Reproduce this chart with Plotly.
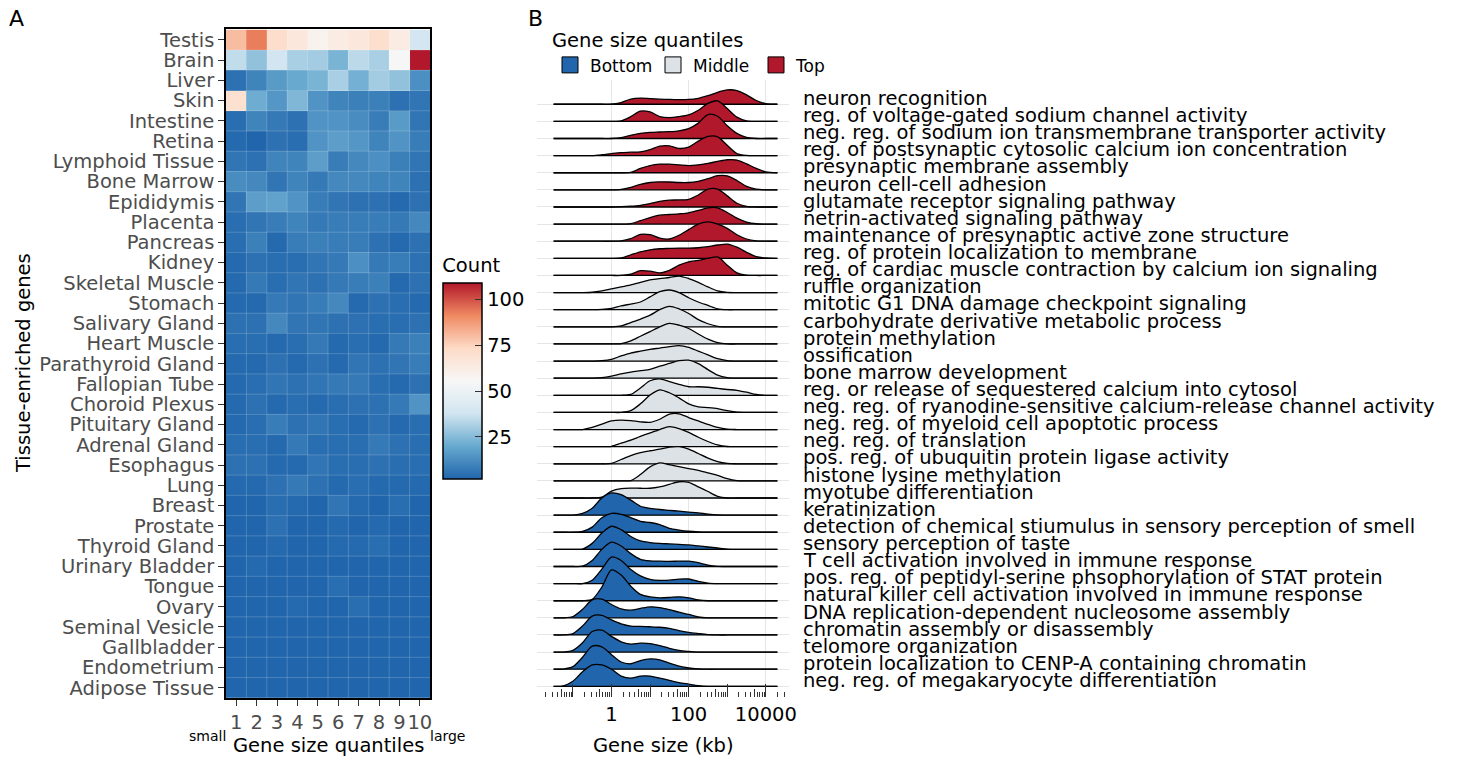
import plotly.graph_objects as go

# ---------------- Panel A data ----------------
TISSUES = ["Testis", "Brain", "Liver", "Skin", "Intestine", "Retina", "Lymphoid Tissue",
           "Bone Marrow", "Epididymis", "Placenta", "Pancreas", "Kidney", "Skeletal Muscle",
           "Stomach", "Salivary Gland", "Heart Muscle", "Parathyroid Gland", "Fallopian Tube",
           "Choroid Plexus", "Pituitary Gland", "Adrenal Gland", "Esophagus", "Lung", "Breast",
           "Prostate", "Thyroid Gland", "Urinary Bladder", "Tongue", "Ovary", "Seminal Vesicle",
           "Gallbladder", "Endometrium", "Adipose Tissue"]
QUANTILES = [1, 2, 3, 4, 5, 6, 7, 8, 9, 10]
COUNTS = [
    [80, 93, 72, 66, 59, 63, 66, 71, 63, 39],
    [35, 27, 38, 31, 30, 23, 34, 31, 55, 109],
    [5, 10, 16, 20, 23, 31, 22, 30, 27, 13],
    [70, 21, 15, 24, 14, 10, 9, 9, 5, 6],
    [4, 10, 7, 5, 14, 14, 12, 8, 16, 6],
    [3, 2, 5, 4, 14, 17, 15, 10, 14, 8],
    [6, 5, 10, 10, 17, 8, 11, 13, 9, 6],
    [12, 11, 6, 10, 7, 11, 11, 10, 10, 5],
    [6, 17, 18, 14, 8, 6, 5, 5, 3, 5],
    [4, 6, 8, 10, 7, 8, 8, 8, 7, 11],
    [4, 9, 3, 8, 9, 8, 8, 5, 3, 5],
    [3, 5, 4, 4, 6, 7, 13, 7, 8, 5],
    [3, 7, 4, 6, 5, 7, 8, 9, 3, 5],
    [3, 3, 7, 6, 8, 11, 3, 5, 4, 3],
    [5, 5, 11, 6, 6, 5, 5, 4, 4, 5],
    [4, 4, 3, 4, 7, 3, 4, 3, 7, 9],
    [3, 3, 5, 3, 5, 3, 6, 5, 6, 8],
    [3, 4, 6, 5, 6, 7, 7, 4, 3, 5],
    [3, 5, 3, 4, 3, 4, 5, 5, 7, 14],
    [3, 4, 8, 5, 6, 4, 3, 5, 3, 4],
    [4, 4, 3, 7, 4, 4, 4, 7, 5, 4],
    [5, 5, 3, 3, 6, 4, 4, 5, 4, 4],
    [3, 3, 5, 7, 5, 3, 4, 3, 3, 3],
    [2, 2, 4, 3, 2, 6, 3, 2, 4, 2],
    [2, 2, 5, 2, 2, 3, 2, 3, 2, 2],
    [2, 2, 3, 2, 2, 3, 3, 4, 2, 2],
    [2, 3, 2, 2, 2, 2, 2, 2, 2, 2],
    [2, 2, 2, 2, 2, 4, 2, 2, 2, 2],
    [2, 2, 2, 3, 2, 2, 4, 2, 2, 2],
    [2, 2, 2, 2, 2, 2, 2, 2, 2, 2],
    [2, 2, 2, 2, 2, 2, 2, 2, 2, 2],
    [2, 2, 2, 2, 2, 2, 2, 2, 2, 2],
    [2, 2, 2, 2, 2, 2, 2, 2, 2, 2],
]
COUNT_TICKS = [25, 50, 75, 100]
RDBU = ["#2166AC", "#67A9CF", "#D1E5F0", "#F7F7F7", "#FDDBC7", "#EF8A62", "#B2182B"]

# ---------------- Panel B data ----------------
# density heights (in ridge-row units) sampled at these log10(kb) positions
LOG10_KB = [-1.5, -1.25, -1.0, -0.75, -0.5, -0.25, 0.0, 0.25, 0.5, 0.75, 1.0, 1.25,
            1.5, 1.75, 2.0, 2.25, 2.5, 2.75, 3.0, 3.25, 3.5, 3.75, 4.0, 4.3]

TOP_TERMS = [
    "neuron recognition",
    "reg. of voltage-gated sodium channel activity",
    "neg. reg. of sodium ion transmembrane transporter activity",
    "reg. of postsynaptic cytosolic calcium ion concentration",
    "presynaptic membrane assembly",
    "neuron cell-cell adhesion",
    "glutamate receptor signaling pathway",
    "netrin-activated signaling pathway",
    "maintenance of presynaptic active zone structure",
    "reg. of protein localization to membrane",
    "reg. of cardiac muscle contraction by calcium ion signaling",
]
MIDDLE_TERMS = [
    "ruffle organization",
    "mitotic G1 DNA damage checkpoint signaling",
    "carbohydrate derivative metabolic process",
    "protein methylation",
    "ossification",
    "bone marrow development",
    "reg. or release of sequestered calcium into cytosol",
    "neg. reg. of ryanodine-sensitive calcium-release channel activity",
    "neg. reg. of myeloid cell apoptotic process",
    "neg. reg. of translation",
    "pos. reg. of ubuquitin protein ligase activity",
    "histone lysine methylation",
    "myotube differentiation",
]
BOTTOM_TERMS = [
    "keratinization",
    "detection of chemical stiumulus in sensory perception of smell",
    "sensory perception of taste",
    "T cell activation involved in immune response",
    "pos. reg. of peptidyl-serine phsophorylation of STAT protein",
    "natural killer cell activation involved in immune response",
    "DNA replication-dependent nucleosome assembly",
    "chromatin assembly or disassembly",
    "telomore organization",
    "protein localization to CENP-A containing chromatin",
    "neg. reg. of megakaryocyte differentiation",
]

TOP_DENSITY = [
    [0, 0, 0, 0, 0, 0, 0, 0.10, 0.30, 0.36, 0.33, 0.30, 0.28, 0.27, 0.28, 0.35, 0.50, 0.70, 0.84, 0.80, 0.55, 0.22, 0.03, 0],
    [0, 0, 0, 0, 0, 0, 0, 0.03, 0.28, 0.60, 0.55, 0.28, 0.22, 0.28, 0.38, 0.65, 1.05, 1.20, 0.75, 0.25, 0.03, 0, 0, 0],
    [0, 0, 0, 0, 0, 0, 0, 0.05, 0.18, 0.30, 0.36, 0.38, 0.40, 0.45, 0.58, 0.90, 1.40, 1.30, 0.75, 0.30, 0.06, 0, 0, 0],
    [0, 0, 0, 0, 0, 0.05, 0.12, 0.18, 0.20, 0.22, 0.35, 0.55, 0.57, 0.42, 0.50, 0.85, 1.12, 1.10, 0.60, 0.12, 0.01, 0, 0, 0],
    [0, 0, 0, 0, 0, 0, 0, 0, 0.02, 0.25, 0.42, 0.50, 0.50, 0.46, 0.42, 0.46, 0.55, 0.66, 0.76, 0.74, 0.52, 0.25, 0.05, 0],
    [0, 0, 0, 0, 0, 0, 0, 0.03, 0.15, 0.32, 0.43, 0.47, 0.46, 0.43, 0.43, 0.50, 0.65, 0.83, 0.82, 0.55, 0.20, 0.04, 0, 0],
    [0, 0, 0, 0, 0, 0, 0, 0.02, 0.05, 0.10, 0.20, 0.33, 0.40, 0.41, 0.45, 0.70, 1.05, 1.05, 0.65, 0.22, 0.04, 0, 0, 0],
    [0, 0, 0, 0, 0, 0, 0, 0, 0.03, 0.20, 0.38, 0.52, 0.56, 0.60, 0.66, 0.80, 0.95, 0.95, 0.68, 0.35, 0.12, 0.02, 0, 0],
    [0, 0, 0, 0, 0, 0, 0, 0.02, 0.15, 0.40, 0.38, 0.18, 0.13, 0.35, 0.68, 1.00, 1.13, 1.00, 0.75, 0.38, 0.13, 0.02, 0, 0],
    [0, 0, 0, 0, 0, 0, 0, 0.02, 0.20, 0.38, 0.50, 0.56, 0.58, 0.60, 0.60, 0.62, 0.68, 0.78, 0.83, 0.65, 0.35, 0.10, 0.02, 0],
    [0, 0, 0, 0, 0, 0, 0, 0, 0.08, 0.28, 0.25, 0.15, 0.30, 0.60, 0.80, 0.88, 1.00, 1.08, 0.60, 0.15, 0.02, 0, 0, 0],
]
MIDDLE_DENSITY = [
    [0, 0, 0, 0, 0.02, 0.10, 0.22, 0.33, 0.45, 0.60, 0.74, 0.82, 0.88, 0.96, 0.82, 0.60, 0.33, 0.10, 0.01, 0, 0, 0, 0, 0],
    [0, 0, 0, 0, 0, 0.02, 0.08, 0.22, 0.33, 0.45, 0.75, 1.05, 1.15, 1.00, 0.70, 0.45, 0.25, 0.05, 0, 0, 0, 0, 0, 0],
    [0, 0, 0, 0, 0, 0, 0, 0.05, 0.25, 0.45, 0.68, 1.00, 1.20, 1.05, 0.78, 0.42, 0.18, 0.03, 0, 0, 0, 0, 0, 0],
    [0, 0, 0, 0, 0, 0, 0, 0.02, 0.18, 0.45, 0.72, 1.00, 1.20, 1.10, 0.90, 0.58, 0.28, 0.08, 0, 0, 0, 0, 0, 0],
    [0, 0, 0, 0, 0, 0.02, 0.10, 0.30, 0.47, 0.58, 0.68, 0.76, 0.84, 0.90, 0.80, 0.58, 0.36, 0.14, 0.03, 0, 0, 0, 0, 0],
    [0, 0, 0, 0, 0, 0.03, 0.12, 0.25, 0.36, 0.44, 0.52, 0.70, 0.86, 1.02, 1.05, 0.85, 0.50, 0.18, 0.03, 0, 0, 0, 0, 0],
    [0, 0, 0, 0, 0, 0, 0, 0, 0.05, 0.43, 0.85, 0.96, 0.80, 0.64, 0.50, 0.50, 0.47, 0.40, 0.34, 0.29, 0.18, 0.05, 0, 0],
    [0, 0, 0, 0, 0, 0, 0, 0, 0.10, 0.50, 1.02, 1.32, 1.15, 0.85, 0.50, 0.32, 0.28, 0.22, 0.10, 0.01, 0, 0, 0, 0],
    [0, 0, 0, 0, 0.12, 0.32, 0.50, 0.55, 0.52, 0.45, 0.42, 0.60, 0.90, 0.92, 0.70, 0.50, 0.30, 0.12, 0.02, 0, 0, 0, 0, 0],
    [0, 0, 0, 0, 0, 0, 0.02, 0.20, 0.38, 0.60, 0.80, 1.00, 1.17, 1.05, 0.83, 0.55, 0.30, 0.10, 0.01, 0, 0, 0, 0, 0],
    [0, 0, 0, 0, 0, 0, 0.02, 0.25, 0.48, 0.65, 0.76, 0.85, 0.97, 1.00, 0.86, 0.60, 0.33, 0.13, 0.02, 0, 0, 0, 0, 0],
    [0, 0, 0, 0, 0, 0, 0, 0, 0.02, 0.37, 0.82, 1.05, 0.95, 0.83, 0.72, 0.62, 0.47, 0.32, 0.13, 0.02, 0, 0, 0, 0],
    [0, 0, 0, 0, 0, 0.05, 0.40, 0.55, 0.58, 0.57, 0.57, 0.65, 0.80, 0.95, 0.92, 0.65, 0.38, 0.10, 0, 0, 0, 0, 0, 0],
]
BOTTOM_DENSITY = [
    [0, 0, 0, 0.10, 0.40, 1.00, 1.30, 1.20, 0.88, 0.52, 0.40, 0.33, 0.28, 0.23, 0.18, 0.13, 0.06, 0.01, 0, 0, 0, 0, 0, 0],
    [0, 0, 0, 0.05, 0.30, 0.85, 1.10, 1.05, 0.85, 0.64, 0.57, 0.45, 0.23, 0.13, 0.06, 0.02, 0, 0, 0, 0, 0, 0, 0, 0],
    [0, 0, 0, 0.02, 0.35, 0.95, 1.35, 1.15, 0.75, 0.49, 0.40, 0.35, 0.32, 0.29, 0.26, 0.20, 0.14, 0.08, 0.02, 0, 0, 0, 0, 0],
    [0, 0, 0, 0.02, 0.35, 1.00, 1.42, 1.20, 0.75, 0.42, 0.33, 0.31, 0.30, 0.31, 0.31, 0.22, 0.08, 0.01, 0, 0, 0, 0, 0, 0],
    [0, 0, 0, 0, 0.20, 0.85, 1.55, 1.35, 0.82, 0.45, 0.25, 0.19, 0.20, 0.26, 0.27, 0.13, 0.03, 0, 0, 0, 0, 0, 0, 0],
    [0, 0, 0, 0, 0.08, 0.80, 1.80, 1.50, 0.85, 0.37, 0.22, 0.17, 0.19, 0.23, 0.17, 0.05, 0, 0, 0, 0, 0, 0, 0, 0],
    [0, 0, 0.08, 0.50, 1.05, 1.10, 0.78, 0.52, 0.45, 0.55, 0.64, 0.60, 0.48, 0.33, 0.20, 0.05, 0, 0, 0, 0, 0, 0, 0, 0],
    [0, 0, 0.08, 0.52, 1.10, 1.15, 0.88, 0.65, 0.52, 0.50, 0.48, 0.45, 0.38, 0.25, 0.15, 0.08, 0.02, 0, 0, 0, 0, 0, 0, 0],
    [0, 0, 0.10, 0.55, 1.20, 1.28, 0.92, 0.60, 0.47, 0.52, 0.50, 0.38, 0.22, 0.10, 0.04, 0, 0, 0, 0, 0, 0, 0, 0, 0],
    [0, 0.01, 0.15, 0.70, 1.35, 1.30, 0.85, 0.42, 0.32, 0.50, 0.60, 0.55, 0.35, 0.18, 0.07, 0.02, 0, 0, 0, 0, 0, 0, 0, 0],
    [0, 0.03, 0.30, 0.85, 1.25, 1.25, 1.00, 0.60, 0.48, 0.60, 0.60, 0.48, 0.35, 0.22, 0.13, 0.04, 0, 0, 0, 0, 0, 0, 0, 0],
]
GROUP_NAMES = ["Bottom", "Middle", "Top"]
GROUP_COLORS = {"Bottom": "#2166AC", "Middle": "#DDE2E6", "Top": "#B2182B"}
KB_TICKS = [1, 100, 10000]

# ---------------- layout helpers ----------------
W, H = 1460, 757
FONT = "DejaVu Sans"
FS = 19.5


def fx(p):
    return p / W


def fy(p):
    return 1 - p / H


fig = go.Figure()

# ---------------- Panel A: heatmap ----------------
n_stops = len(RDBU) - 1
fig.add_trace(go.Heatmap(
    z=COUNTS, x=QUANTILES, y=TISSUES,
    colorscale=[[i / n_stops, c] for i, c in enumerate(RDBU)],
    xaxis="x", yaxis="y", hoverongaps=False,
    colorbar=dict(
        x=fx(443), xanchor="left", xpad=0,
        y=fy(367), yanchor="middle", ypad=0,
        len=224, lenmode="pixels", thickness=39, thicknessmode="pixels",
        outlinecolor="black", outlinewidth=1.5,
        tickmode="array", tickvals=COUNT_TICKS, ticks="inside", ticklen=7,
        tickprefix=" ",
        tickcolor="#333333", tickfont=dict(family=FONT, size=FS, color="black"),
        title=dict(text="Count", side="top", font=dict(family=FONT, size=FS, color="black")),
    ),
))

# faint tile borders
for i in range(1, len(QUANTILES)):
    xb = (QUANTILES[i - 1] + QUANTILES[i]) / 2
    fig.add_shape(type="line", xref="x", yref="y", x0=xb, x1=xb, y0=-0.5, y1=len(TISSUES) - 0.5,
                  line=dict(color="rgba(255,255,255,0.18)", width=1))
for j in range(1, len(TISSUES)):
    fig.add_shape(type="line", xref="x", yref="y", x0=QUANTILES[0] - 0.5, x1=QUANTILES[-1] + 0.5,
                  y0=j - 0.5, y1=j - 0.5, line=dict(color="rgba(255,255,255,0.18)", width=1))

# ---------------- Panel B: ridgelines ----------------
ridge_terms = TOP_TERMS + MIDDLE_TERMS + BOTTOM_TERMS
ridge_groups = ["Top"] * len(TOP_TERMS) + ["Middle"] * len(MIDDLE_TERMS) + ["Bottom"] * len(BOTTOM_TERMS)
ridge_dens = TOP_DENSITY + MIDDLE_DENSITY + BOTTOM_DENSITY
n_ridges = len(ridge_terms)
kb = [10 ** v for v in LOG10_KB]

for i, (term, grp, dens) in enumerate(zip(ridge_terms, ridge_groups, ridge_dens)):
    base = n_ridges - 1 - i
    fig.add_trace(go.Scatter(
        x=[kb[0], kb[-1]], y=[base, base], mode="lines",
        line=dict(color="black", width=1.3), xaxis="x2", yaxis="y2",
        showlegend=False, hoverinfo="skip"))
    fig.add_trace(go.Scatter(
        x=kb, y=[base + d for d in dens], mode="lines",
        line=dict(color="black", width=1.3, shape="spline", smoothing=0.8),
        fill="tonexty", fillcolor=GROUP_COLORS[grp], xaxis="x2", yaxis="y2",
        showlegend=False, name=term, hoverinfo="name"))
    fig.add_annotation(xref="paper", yref="y2", x=fx(801), y=base, text=term,
                       showarrow=False, xanchor="left", yanchor="middle", yshift=5.8,
                       font=dict(family=FONT, size=FS, color="black"))

# legend entries
for g in GROUP_NAMES:
    fig.add_trace(go.Scatter(
        x=[None], y=[None], mode="markers", name=g, xaxis="x2", yaxis="y2",
        marker=dict(symbol="square", size=21, color=GROUP_COLORS[g], line=dict(color="black", width=1))))

# helper trace for the overlay tick axis
fig.add_trace(go.Scatter(x=[1], y=[0], xaxis="x3", yaxis="y2", mode="markers",
                         marker=dict(opacity=0), showlegend=False, hoverinfo="skip"))

minor_vals = []
mid_vals = []
for k in range(-2, 5):
    for d in [2, 3, 4, 6, 7, 8, 9]:
        minor_vals.append(d * 10 ** k)
    mid_vals.append(5 * 10 ** k)
decade_vals = [0.1, 10, 1000]

xr = [-1.93, 4.6]
tick_col = "#333333"

fig.update_layout(
    width=W, height=H, margin=dict(l=0, r=0, t=0, b=0),
    paper_bgcolor="white", plot_bgcolor="white",
    font=dict(family=FONT, size=FS, color="black"),
    showlegend=True,
    legend=dict(
        orientation="h", x=fx(550), y=fy(22), xanchor="left", yanchor="top",
        title=dict(text="Gene size quantiles", side="top", font=dict(family=FONT, size=FS)),
        font=dict(family=FONT, size=17, color="black"), bgcolor="rgba(0,0,0,0)",
        traceorder="normal", itemsizing="trace",
        entrywidth=58, entrywidthmode="pixels",
    ),
    xaxis=dict(domain=[fx(226), fx(430)], anchor="y", range=[0.5, 10.5],
               tickmode="array", tickvals=QUANTILES, ticktext=[str(q) for q in QUANTILES],
               tickangle=0,
               ticks="outside", ticklen=6, tickcolor=tick_col,
               tickfont=dict(family=FONT, size=FS, color="#4D4D4D"),
               showline=True, mirror=True, linecolor="black", linewidth=1.5,
               showgrid=False, zeroline=False, automargin=False),
    yaxis=dict(domain=[fy(698.3), fy(29.3)], anchor="x", type="category",
               categoryorder="array", categoryarray=TISSUES, autorange="reversed",
               tickmode="array", tickvals=TISSUES, ticktext=TISSUES,
               ticks="outside", ticklen=6, tickcolor=tick_col,
               tickfont=dict(family=FONT, size=FS, color="#4D4D4D"),
               showline=True, mirror=True, linecolor="black", linewidth=1.5,
               showgrid=False, zeroline=False, automargin=False),
    xaxis2=dict(domain=[fx(537), fx(789)], anchor="y2", type="log", range=xr,
                tickmode="array", tickvals=KB_TICKS, ticktext=[str(t) for t in KB_TICKS],
                tickangle=0,
                ticks="inside", ticklen=13, tickcolor=tick_col, tickwidth=1,
                tickfont=dict(family=FONT, size=FS, color="black"), ticklabelstandoff=4,
                showgrid=True, gridcolor="#E6E6E6", gridwidth=1,
                minor=dict(tickmode="array", tickvals=minor_vals, ticks="inside", ticklen=5,
                           tickcolor=tick_col, tickwidth=1, showgrid=False),
                showline=False, zeroline=False, automargin=False),
    xaxis3=dict(domain=[fx(537), fx(789)], overlaying="x2", anchor="y2", type="log", range=xr,
                tickmode="array", tickvals=decade_vals, ticks="inside", ticklen=13,
                tickcolor=tick_col, tickwidth=1, showticklabels=False, showgrid=False,
                minor=dict(tickmode="array", tickvals=mid_vals, ticks="inside", ticklen=8,
                           tickcolor=tick_col, tickwidth=1, showgrid=False),
                showline=False, zeroline=False, automargin=False),
    yaxis2=dict(domain=[fy(696.6), fy(80.3)], anchor="x2", range=[-0.6, 35.4],
                tickmode="array", tickvals=list(range(n_ridges)), showticklabels=False, ticks="",
                showgrid=True, gridcolor="#E6E6E6", gridwidth=1, zeroline=False,
                showline=False, automargin=False),
)

# titles and panel tags
ann = [
    dict(x=fx(23), y=fy(363), text="Tissue-enriched genes", textangle=-90, size=FS),
    dict(x=fx(328), y=fy(745), text="Gene size quantiles", textangle=0, size=FS),
    dict(x=fx(207), y=fy(736), text="small", textangle=0, size=14),
    dict(x=fx(447), y=fy(736), text="large", textangle=0, size=14),
    dict(x=fx(663), y=fy(745), text="Gene size (kb)", textangle=0, size=FS),
    dict(x=fx(16), y=fy(19), text="A", textangle=0, size=22),
    dict(x=fx(535), y=fy(19), text="B", textangle=0, size=22),
]
for a in ann:
    fig.add_annotation(xref="paper", yref="paper", x=a["x"], y=a["y"], text=a["text"],
                       textangle=a["textangle"], showarrow=False, xanchor="center", yanchor="middle",
                       font=dict(family=FONT, size=a["size"], color="black"))

fig.write_html("out.html", config={"displayModeBar": False},
               post_script="document.body.style.margin='0px';document.body.style.overflow='hidden';")
